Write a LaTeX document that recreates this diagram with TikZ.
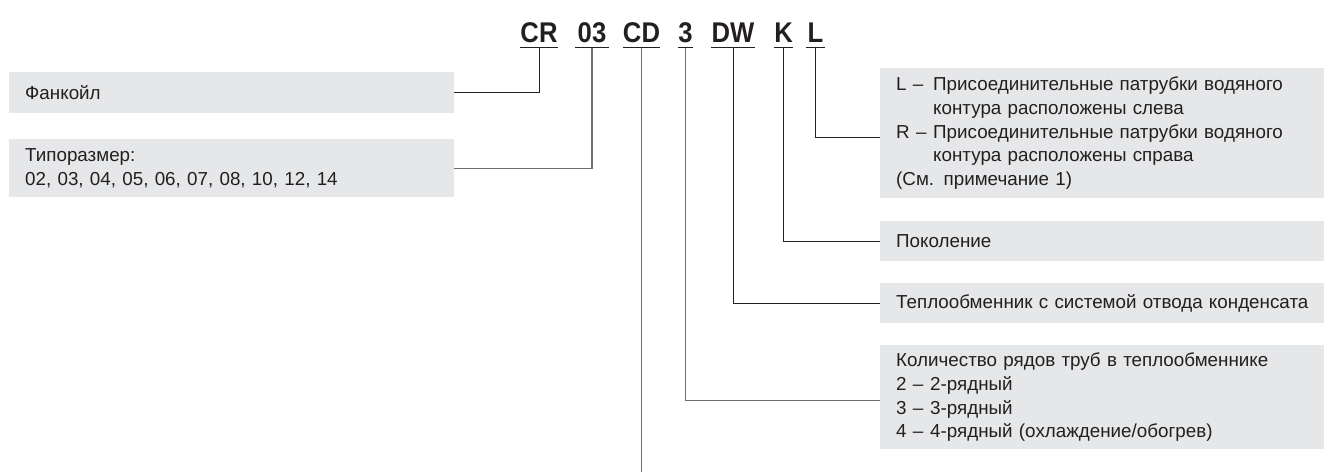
\documentclass[tikz,border=0pt]{standalone}
\usepackage{fontspec}
\setmainfont{Liberation Sans}
\newfontfamily\codefont{Liberation Sans}[FakeStretch=0.9]
\definecolor{ink}{HTML}{231F20}
\definecolor{boxgray}{HTML}{E6E7E8}
\definecolor{linegray}{HTML}{6D6E71}
\begin{document}
\begin{tikzpicture}[x=1pt,y=-1pt,
  code/.style={font=\codefont\bfseries\fontsize{28.5}{30}\selectfont, text=ink,
    inner xsep=0pt, inner ysep=4.5pt, text depth=0pt, text height=20pt, anchor=south},
  infobox/.style={rectangle, fill=boxgray, anchor=north west, text=ink,
    font=\fontsize{18.8}{23.7}\selectfont, inner xsep=16pt, inner ysep=0pt,
    align=left, minimum width=#1, text width=#1-32pt},
  conn/.style={draw=ink, line width=1pt},
  conngray/.style={draw=linegray, line width=1.4pt},
  uline/.style={draw=ink, line width=1pt}]
\useasboundingbox (0,0) rectangle (1324,472);

% code letters
\node[code, minimum width=35pt] (cr)  at (539,47.5) {CR};
\node[code, minimum width=34pt] (n03) at (592,47.5) {03};
\node[code, minimum width=36pt] (cd)  at (641.5,47.5) {CD};
\node[code, minimum width=15pt] (n3)  at (685.5,47.5) {3};
\node[code, minimum width=44pt] (dw)  at (733,47.5) {DW};
\node[code, minimum width=19pt] (k)   at (783.5,47.5) {K};
\node[code, minimum width=19pt] (l)   at (815.5,47.5) {L};
\foreach \n in {cr,n03,cd,n3,dw,k,l}{
  \draw[uline] (\n.south west) -- (\n.south east);
}

% left boxes
\node[infobox=445pt, minimum height=41pt] (fan) at (9,72) {Фанкойл};
\node[infobox=445pt, minimum height=58pt] (tip) at (9,139)
  {Типоразмер:\\02, 03, 04, 05, 06, 07, 08, 10, 12, 14};

% right boxes
\node[infobox=444pt, minimum height=130pt] (lbox) at (880,68)
  {\mbox{\makebox[37pt][l]{L –}Присоединительные патрубки водяного}\\
   \hspace*{37pt}контура расположены слева\\
   \mbox{\makebox[37pt][l]{R –}Присоединительные патрубки водяного}\\
   \hspace*{37pt}контура расположены справа\\
   (См. примечание 1)};
\node[infobox=444pt, minimum height=40pt] (gen) at (880,221) {Поколение};
\node[infobox=444pt, minimum height=40pt] (heat) at (880,283)
  {\mbox{Теплообменник с системой отвода конденсата}};
\node[infobox=444pt, minimum height=104pt] (rows) at (880,345)
  {\mbox{Количество рядов труб в теплообменнике}\\
   \makebox[34pt][l]{2 –}2-рядный\\
   \makebox[34pt][l]{3 –}3-рядный\\
   \makebox[34pt][l]{4 –}4-рядный (охлаждение/обогрев)};

\coordinate (bot) at (641.5,472);

% connectors
\draw[conn] (cr.south) |- (fan.east);
\draw[conngray] (n03.south) |- (tip.east);
\draw[conngray] (cd.south) -- (bot);
\draw[conngray] (n3.south) |- ([yshift=-3pt]rows.west);
\draw[conn] (dw.south) |- (heat.west);
\draw[conn] (k.south) |- (gen.west);
\draw[conn] (l.south) |- ([yshift=-4pt]lbox.west);
\end{tikzpicture}
\end{document}
